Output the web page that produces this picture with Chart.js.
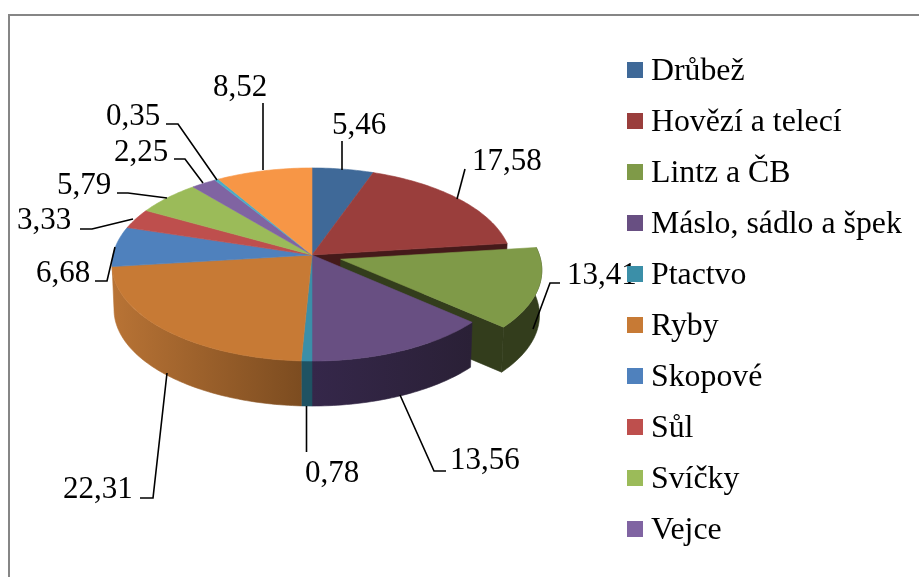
<!DOCTYPE html>
<html>
<head>
<meta charset="utf-8">
<title>Koláčový graf</title>
<script src="https://cdn.jsdelivr.net/npm/chart.js@4"></script>
<style>
    html, body { margin: 0; padding: 0; background: #fff; overflow: hidden; }
    canvas { display: block; }
</style>
</head>
<body>
<canvas id="pie" width="919" height="577"></canvas>
<script>
// hodnoty, poslední dvě položky legenda neukazuje
const categories = ['Drůbež', 'Hovězí a telecí', 'Lintz a ČB', 'Máslo, sádlo a špek', 'Ptactvo', 'Ryby', 'Skopové', 'Sůl', 'Svíčky', 'Vejce', '', ''];
const values     = [5.46, 17.58, 13.41, 13.56, 0.78, 22.31, 6.68, 3.33, 5.79, 2.25, 0.35, 8.52];
const topColors  = ['#3F6998', '#9A3E3C', '#7F9A48', '#684F82', '#3B8FA8', '#C77A35', '#4F81BD', '#BE4F4D', '#9BBB59', '#8064A2', '#4BACC6', '#F79646'];

// layout
const CX = 312, CY = 255, RX = 199, RY = 95.6, PERSP = 0.0984;
const DEPTH = 45, BOTTOM_X = 0.99;
const EXPLODED = 2, EXPLODE = 0.15;
const WALL_END = 264.4 * Math.PI / 180;
const LABEL_FONT = '31px "Liberation Serif"';
const LEGEND_FONT = '31.8px "Liberation Serif"';

// [text x, text y (střed), body vodicí čáry]
const labelLayout = [
    [332, 126, [[342, 141], [342, 170]]],
    [472, 162, [[465, 169], [457, 199]]],
    [567, 276, [[560, 283], [550, 283], [533, 329]]],
    [450, 461, [[400, 395], [434, 471], [446, 471]]],
    [305, 474, [[306.5, 406], [306.5, 452]]],
    [63, 490, [[167, 373], [153, 498], [140, 498]]],
    [36, 274, [[115, 247], [107, 281], [95, 281]]],
    [17, 221, [[133, 219], [92, 229], [80, 229]]],
    [57, 186, [[167, 198], [128, 193], [117, 193]]],
    [114, 153, [[203, 183], [185, 159], [174, 159]]],
    [106, 117, [[217, 180], [178, 124], [166, 124]]],
    [213, 88, [[263, 170], [263, 103]]]
];

// úhel od vrcholu po směru hodin -> bod na perspektivní elipse
function project(u, v) {
    const d = 1 - PERSP * v;
    return [CX + RX * u / d, CY + RY * v / d];
}

function rimPoints(a0, a1, ou, ov) {
    const n = Math.max(2, Math.ceil(Math.abs(a1 - a0) / 0.02));
    const pts = [];
    for (let i = 0; i <= n; i++) {
        const a = a0 + (a1 - a0) * i / n;
        pts.push(project(ou + Math.sin(a), ov - Math.cos(a)));
    }
    return pts;
}

function fillPoly(ctx, pts, fill) {
    ctx.beginPath();
    pts.forEach((p, i) => i ? ctx.lineTo(p[0], p[1]) : ctx.moveTo(p[0], p[1]));
    ctx.closePath();
    ctx.fillStyle = fill;
    ctx.fill();
    // bez bílých švů mezi plochami
    ctx.strokeStyle = fill;
    ctx.lineWidth = 0.6;
    ctx.stroke();
}

function lower(p) {
    return [CX + (p[0] - CX) * BOTTOM_X, p[1] + DEPTH];
}

function wall(ctx, pts, fill) {
    fillPoly(ctx, pts.concat(pts.slice().reverse().map(lower)), fill);
}

function horizGrad(ctx, x0, x1, c0, c1) {
    const g = ctx.createLinearGradient(x0, 0, x1, 0);
    g.addColorStop(0, c0);
    g.addColorStop(1, c1);
    return g;
}

const pie3d = {
    id: 'pie3d',
    beforeDatasetsDraw(chart) {
        const ctx = chart.ctx;
        const arcs = chart.getDatasetMeta(0).data;
        const ang = arcs.map(a => [a.startAngle + Math.PI / 2, a.endAngle + Math.PI / 2]);
        const top = (i, ou, ov) => [project(ou, ov)].concat(rimPoints(ang[i][0], ang[i][1], ou, ov));

        ctx.save();

        // řezná stěna hovězího za vysunutou výsečí
        wall(ctx, [project(0, 0), project(Math.sin(ang[1][1]), -Math.cos(ang[1][1]))], '#451A1A');

        // vysunutá výseč
        const mid = (ang[EXPLODED][0] + ang[EXPLODED][1]) / 2;
        const ou = EXPLODE * Math.sin(mid), ov = -EXPLODE * Math.cos(mid);
        const end = ang[EXPLODED][1];
        wall(ctx, rimPoints(ang[EXPLODED][0], end, ou, ov), '#333D1C');
        wall(ctx, [project(ou, ov), project(ou + Math.sin(end), ov - Math.cos(end))], '#333D1C');
        fillPoly(ctx, top(EXPLODED, ou, ov), topColors[EXPLODED]);

        // přední plášť
        wall(ctx, rimPoints(ang[3][0], ang[3][1], 0, 0), horizGrad(ctx, 312, 472, '#35274A', '#2A2036'));
        wall(ctx, rimPoints(ang[4][0], ang[4][1], 0, 0), '#1F5363');
        wall(ctx, rimPoints(ang[5][0], WALL_END, 0, 0), horizGrad(ctx, 113, 302, '#B87335', '#7C4C20'));

        // horní plochy
        arcs.forEach((a, i) => {
            if (i !== EXPLODED) fillPoly(ctx, top(i, 0, 0), topColors[i]);
        });

        // popisky a vodicí čáry
        ctx.strokeStyle = '#000';
        ctx.lineWidth = 1.6;
        ctx.font = LABEL_FONT;
        ctx.fillStyle = '#000';
        ctx.textAlign = 'left';
        ctx.textBaseline = 'middle';
        values.forEach((v, i) => {
            const [tx, ty, line] = labelLayout[i];
            ctx.beginPath();
            line.forEach((p, k) => k ? ctx.lineTo(p[0], p[1]) : ctx.moveTo(p[0], p[1]));
            ctx.stroke();
            ctx.fillText(v.toFixed(2).replace('.', ','), tx, ty);
        });

        // legenda
        ctx.font = LEGEND_FONT;
        categories.filter(c => c).forEach((c, i) => {
            const y = 70 + i * 51;
            ctx.fillStyle = topColors[i];
            ctx.fillRect(627, y - 8, 16, 16);
            ctx.fillStyle = '#000';
            ctx.fillText(c, 651, y + 2);
        });

        // rámeček grafu
        ctx.strokeStyle = '#868686';
        ctx.lineWidth = 2;
        ctx.beginPath();
        ctx.moveTo(9, 577);
        ctx.lineTo(9, 15);
        ctx.lineTo(919, 15);
        ctx.stroke();

        ctx.restore();
        return false;
    }
};

new Chart(document.getElementById('pie'), {
    type: 'pie',
    data: {
        labels: categories,
        datasets: [{ data: values, backgroundColor: topColors, borderWidth: 0 }]
    },
    options: {
        responsive: false,
        animation: false,
        rotation: 0,
        plugins: { legend: { display: false }, tooltip: { enabled: false } }
    },
    plugins: [pie3d]
});
</script>
</body>
</html>
